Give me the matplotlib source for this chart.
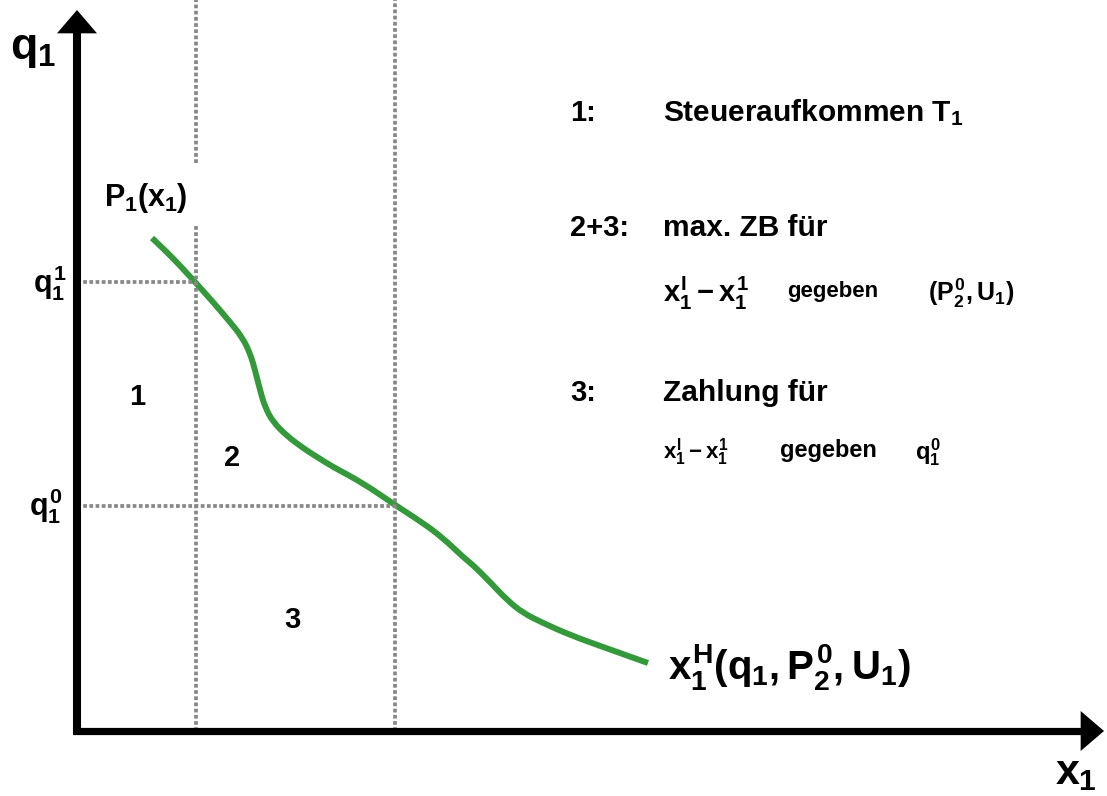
import matplotlib
matplotlib.use("Agg")
import matplotlib.pyplot as plt
from matplotlib.path import Path
from matplotlib.patches import PathPatch

plt.rcParams['mathtext.fontset'] = 'custom'
plt.rcParams['mathtext.rm'] = 'Liberation Sans:bold'
plt.rcParams['mathtext.it'] = 'Liberation Sans:bold'
plt.rcParams['mathtext.bf'] = 'Liberation Sans:bold'
plt.rcParams['mathtext.sf'] = 'Liberation Sans:bold'
plt.rcParams['font.family'] = ['Liberation Sans', 'DejaVu Sans']
plt.rcParams['font.weight'] = 'bold'

# demand curve x1^H(q1)
curve_x = [75, 96, 118, 136, 153, 165, 173, 178, 183, 188, 196, 210, 226, 240,
           256, 286, 318, 346, 366, 386, 396, 413, 430, 446, 466, 493, 526, 571]
curve_y = [493, 473, 449, 429, 409, 394, 378, 361, 341, 324, 309, 295, 283, 274,
           264, 248, 226, 208, 193, 174, 166, 149, 131, 118, 108, 96, 84, 68]

# price levels and quantities
q_levels = [449, 225]          # q1^1, q1^0
x_levels = [119, 318]          # x1^1, x1^I
x_max = 1027
y_max = 721

green = '#34993a'
grey = '#888888'

fig = plt.figure(figsize=(11.07, 7.96), dpi=100)
ax = fig.add_axes([0, 0, 1, 1])
ax.set_xlim(-77, 1030)
ax.set_ylim(-65, 731)
ax.axis('off')

dot = dict(color=grey, lw=2.7, linestyle=(0, (1, 0.65)), dash_capstyle='butt')
# horizontal guides
ax.plot([0, x_levels[0]], [q_levels[0]] * 2, **dot)
ax.plot([0, x_levels[1]], [q_levels[1]] * 2, **dot)
# vertical guides (first one broken for the P1 label)
ax.plot([x_levels[0]] * 2, [0, 506], **dot)
ax.plot([x_levels[0]] * 2, [568, 731], **dot)
ax.plot([x_levels[1]] * 2, [0, 731], **dot)

# curve: quadratic bezier through midpoints so the bends are smooth
pts = list(zip(curve_x, curve_y))
verts = [pts[0]]
codes = [Path.MOVETO]
mid = lambda a, b: ((a[0] + b[0]) / 2, (a[1] + b[1]) / 2)
verts.append(mid(pts[0], pts[1]))
codes.append(Path.LINETO)
for i in range(1, len(pts) - 1):
    verts += [pts[i], mid(pts[i], pts[i + 1])]
    codes += [Path.CURVE3, Path.CURVE3]
verts.append(pts[-1])
codes.append(Path.LINETO)
ax.add_patch(PathPatch(Path(verts, codes), fill=False, edgecolor=green, lw=4.3,
                       capstyle='butt', joinstyle='round'))

# axes with arrows
ax.plot([0, 0], [-4, y_max - 15], color='k', lw=5.8, solid_capstyle='butt')
ax.plot([-4, x_max - 15], [0, 0], color='k', lw=5.2, solid_capstyle='butt')
head = dict(arrowstyle='-|>,head_length=0.42,head_width=0.36', color='k', lw=0,
            mutation_scale=40, shrinkA=0, shrinkB=0)
ax.annotate('', xy=(0, y_max), xytext=(0, y_max - 40), arrowprops=head)
ax.annotate('', xy=(x_max, 0), xytext=(x_max - 40, 0), arrowprops=head)

# axis labels
ax.text(-67, 681, r'$q_1$', fontsize=32, ha='left', va='center')
ax.text(978, -42, r'$x_1$', fontsize=31, ha='left', va='center')
ax.text(27, 533, r'$P_1(x_1)$', fontsize=22, ha='left', va='center')
ax.text(-11, 448, r'$q_1^1$', fontsize=22, ha='right', va='center')
ax.text(-15, 225, r'$q_1^0$', fontsize=22, ha='right', va='center')

# regions
ax.text(60, 334, '1', fontsize=21, ha='center', va='center')
ax.text(155, 273, '2', fontsize=21, ha='center', va='center')
ax.text(215, 111, '3', fontsize=21, ha='center', va='center')

ax.text(591, 64, r'$x_1^H(q_1,P_2^0,U_1)$', fontsize=29, ha='left', va='center')

# legend block
ax.text(493, 618, '1:', fontsize=21, ha='left', va='center')
ax.text(586, 618, r'Steueraufkommen T$_1$', fontsize=21.5, ha='left', va='center')
ax.text(493, 503, '2+3:', fontsize=21, ha='left', va='center')
ax.text(586, 503, 'max. ZB für', fontsize=21.5, ha='left', va='center')
ax.text(586, 438, r'$x_1^I - x_1^1$', fontsize=21, ha='left', va='center')
ax.text(710, 440, 'gegeben', fontsize=16, ha='left', va='center')
ax.text(851, 438, r'$(P_2^0,U_1)$', fontsize=18, ha='left', va='center')
ax.text(493, 338, '3:', fontsize=21, ha='left', va='center')
ax.text(586, 338, 'Zahlung für', fontsize=21.5, ha='left', va='center')
ax.text(586, 279, r'$x_1^I - x_1^1$', fontsize=16, ha='left', va='center')
ax.text(703, 281, 'gegeben', fontsize=17, ha='left', va='center')
ax.text(838, 279, r'$q_1^0$', fontsize=17, ha='left', va='center')

fig.savefig('out.png', dpi=100)
